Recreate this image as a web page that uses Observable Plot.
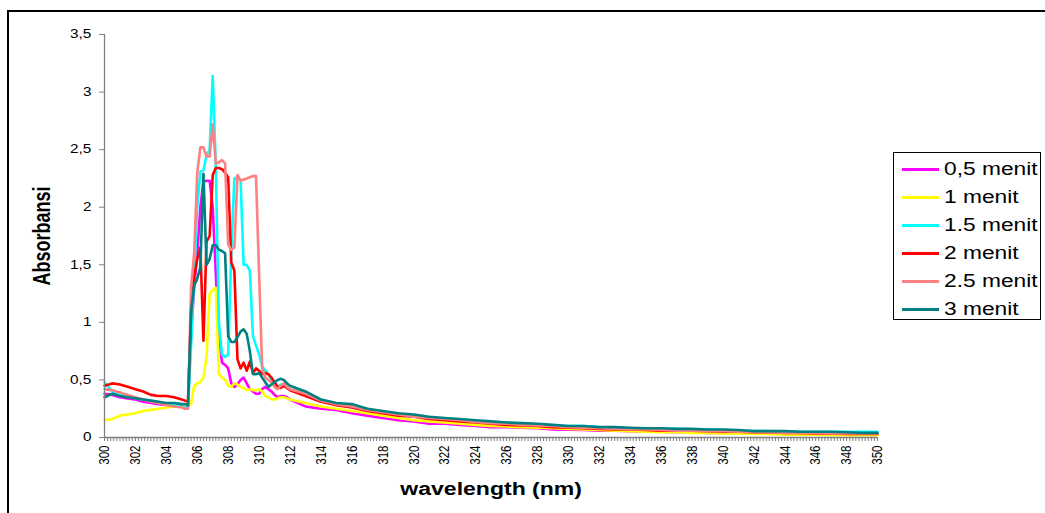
<!DOCTYPE html>
<html><head><meta charset="utf-8">
<script src="https://cdn.jsdelivr.net/npm/d3@7"></script>
<script src="https://cdn.jsdelivr.net/npm/@observablehq/plot@0.6"></script>
<style>
html,body{margin:0;padding:0;background:#fff;}
#wrap{position:relative;width:1045px;height:513px;overflow:hidden;font-family:"Liberation Sans",Arial,sans-serif;}
#chart{position:absolute;left:0;top:0;}
#frame{position:absolute;left:7px;top:10px;width:1100px;height:600px;border-left:2px solid #000;border-top:2px solid #000;}
#legend{position:absolute;left:893px;top:152px;width:148px;height:168px;border:1px solid #000;box-sizing:border-box;background:#fff;}
.sw{position:absolute;left:8px;width:37px;height:3px;}
.lt{position:absolute;left:50px;height:20px;line-height:20px;font-size:17.5px;white-space:nowrap;transform:scaleX(1.3);transform-origin:left center;color:#000;}
</style>
</head><body>
<div id="wrap"><div id="chart"></div><div id="frame"></div><div id="legend"></div></div>
<script>
// wavelength (nm)
const wavelength = [300,300.5,301,301.5,302,302.5,303,303.5,304,304.5,305,
 305.2,305.4,305.6,305.8,306,306.2,306.4,306.6,306.8,307,307.2,307.4,307.6,307.8,308,308.2,308.4,308.6,308.8,309,309.2,309.4,309.6,309.8,310,310.2,310.4,310.6,310.8,311,311.2,311.4,311.6,311.8,312,
 313,314,315,316,317,318,319,320,321,322,323,324,325,326,327,328,329,330,331,332,333,334,335,336,337,338,339,340,341,342,343,344,345,346,347,348,349,350];

const seriesNames = ["0,5 menit","1 menit","1.5 menit","2 menit","2.5 menit","3 menit"];
const seriesColors = ["#FF00FF","#FFFF00","#00FFFF","#FF0000","#FF8080","#008080"];

const m05 = [0.38,0.37,0.35,0.34,0.33,0.31,0.30,0.29,0.28,0.27,0.27,
 0.27,0.27,0.9,1.3,1.6,2.0,2.22,2.23,2.23,2.0,1.42,0.9,0.65,0.63,0.6,0.47,0.44,0.46,0.5,0.52,0.47,0.42,0.40,0.38,0.38,0.42,0.44,0.42,0.40,0.37,0.35,0.36,0.36,0.35,0.33,
 0.27,0.25,0.24,0.21,0.19,0.17,0.15,0.14,0.12,0.12,0.11,0.10,0.09,0.09,0.085,0.08,0.07,0.067,0.065,0.06,0.058,0.055,0.05,0.05,0.045,0.045,0.04,0.04,0.04,0.035,0.035,0.035,0.03,0.03,0.03,0.03,0.03,0.03];
const m1 = [0.15,0.16,0.19,0.20,0.21,0.23,0.24,0.25,0.26,0.27,0.28,
 0.28,0.28,0.29,0.45,0.47,0.48,0.52,0.7,1.25,1.28,1.3,0.55,0.52,0.5,0.45,0.44,0.47,0.46,0.44,0.43,0.41,0.42,0.41,0.41,0.42,0.40,0.36,0.35,0.33,0.33,0.34,0.35,0.35,0.34,0.33,
 0.30,0.27,0.25,0.23,0.21,0.19,0.17,0.15,0.14,0.13,0.12,0.11,0.10,0.095,0.09,0.085,0.08,0.075,0.07,0.065,0.06,0.055,0.05,0.045,0.045,0.04,0.04,0.035,0.035,0.03,0.03,0.025,0.025,0.025,0.02,0.02,0.02,0.02];
const m15 = [0.48,0.40,0.37,0.36,0.34,0.33,0.32,0.30,0.29,0.28,0.27,
 0.26,0.26,0.8,1.4,2.0,2.31,2.32,2.45,2.5,3.14,2.35,1.0,0.72,0.7,0.72,1.6,2.25,2.26,2.24,1.5,1.5,1.45,0.88,0.8,0.72,0.62,0.58,0.55,0.5,0.46,0.44,0.46,0.45,0.43,0.42,
 0.38,0.32,0.29,0.27,0.25,0.22,0.20,0.19,0.17,0.16,0.15,0.14,0.135,0.13,0.12,0.11,0.10,0.10,0.10,0.09,0.085,0.08,0.08,0.075,0.075,0.07,0.07,0.065,0.06,0.055,0.055,0.05,0.05,0.05,0.05,0.05,0.05,0.05];
const m2 = [0.45,0.47,0.46,0.44,0.42,0.40,0.37,0.36,0.36,0.35,0.33,
 0.32,0.31,1.1,1.4,1.55,1.65,0.84,1.7,1.75,2.28,2.34,2.34,2.33,2.3,2.26,1.52,1.45,0.68,0.6,0.65,0.58,0.66,0.56,0.6,0.58,0.55,0.56,0.55,0.52,0.48,0.44,0.43,0.45,0.43,0.41,
 0.36,0.31,0.28,0.26,0.23,0.21,0.19,0.18,0.16,0.15,0.14,0.13,0.12,0.11,0.105,0.10,0.09,0.085,0.08,0.075,0.07,0.07,0.065,0.06,0.06,0.06,0.055,0.05,0.05,0.045,0.045,0.04,0.04,0.035,0.035,0.03,0.03,0.03];
const m25 = [0.42,0.41,0.39,0.37,0.35,0.33,0.31,0.30,0.28,0.27,0.26,
 0.25,0.25,1.3,1.6,2.3,2.52,2.52,2.44,2.44,2.72,2.38,2.39,2.41,2.38,1.68,1.63,1.65,2.28,2.23,2.24,2.25,2.26,2.27,2.27,1.42,0.6,0.52,0.5,0.48,0.44,0.42,0.45,0.47,0.44,0.42,
 0.38,0.32,0.29,0.27,0.24,0.22,0.20,0.18,0.17,0.16,0.15,0.135,0.125,0.12,0.11,0.105,0.10,0.09,0.085,0.08,0.075,0.07,0.07,0.065,0.06,0.06,0.055,0.055,0.05,0.045,0.045,0.04,0.04,0.04,0.035,0.035,0.035,0.035];
const m3 = [0.35,0.38,0.36,0.35,0.34,0.33,0.32,0.31,0.30,0.30,0.29,
 0.29,0.28,1.1,1.32,1.38,1.48,2.29,1.5,1.55,1.67,1.67,1.63,1.62,1.6,0.88,0.83,0.83,0.87,0.92,0.94,0.9,0.75,0.55,0.55,0.56,0.52,0.48,0.44,0.46,0.48,0.5,0.51,0.5,0.47,0.45,
 0.40,0.33,0.30,0.29,0.25,0.23,0.21,0.20,0.18,0.17,0.16,0.15,0.14,0.13,0.125,0.12,0.11,0.10,0.10,0.09,0.09,0.085,0.08,0.08,0.075,0.075,0.07,0.07,0.065,0.055,0.055,0.055,0.05,0.05,0.05,0.045,0.04,0.04];

const yTicks = [0,0.5,1,1.5,2,2.5,3,3.5];
const xLabelTicks = [300,302,304,306,308,310,312,314,316,318,320,322,324,326,328,330,332,334,336,338,340,342,344,346,348,350];
const yTitle = "Absorbansi";
const xTitle = "wavelength (nm)";

const allSeries = [m05, m1, m15, m2, m25, m3];
const minorTicks = d3.range(0, 251).map(i => 300 + i * 0.2);

const lineMarks = allSeries.map((vals, k) =>
  Plot.line(wavelength.map((w, i) => ({w, a: vals[i]})), {x: "w", y: "a", stroke: seriesColors[k], strokeWidth: 2.6, strokeLinejoin: "round"})
);

const chart = Plot.plot({
  width: 1045, height: 513,
  marginLeft: 104, marginRight: 168, marginTop: 34, marginBottom: 76,
  style: {fontFamily: "Liberation Sans, Arial, sans-serif", color: "#000", background: "transparent", overflow: "visible"},
  x: {domain: [300, 350], axis: null},
  y: {domain: [0, 3.5], axis: null},
  marks: [
    ...lineMarks,
    Plot.ruleX([300], {stroke: "#808080", strokeWidth: 1.3}),
    Plot.ruleY([0], {stroke: "#808080", strokeWidth: 1.3}),
    Plot.axisY({ticks: yTicks, tickSize: 5, tickPadding: 8, fontSize: 12, stroke: "#808080", label: null,
      tickFormat: d => String(d).replace(".", ",")}),
    Plot.axisX({ticks: minorTicks, tickSize: 4, stroke: "#808080", label: null, tickFormat: () => ""}),
    Plot.axisX({ticks: xLabelTicks, tickSize: 0, tickPadding: 8, tickRotate: -90, fontSize: 12, label: null,
      tickFormat: d => String(d)}),
    Plot.text([yTitle], {frameAnchor: "left", text: d => d, rotate: -90, dx: -62, fontSize: 18, fontWeight: "bold", textAnchor: "middle", lineAnchor: "middle"}),
    Plot.text([xTitle], {frameAnchor: "bottom", text: d => d, dy: 52, fontSize: 18, fontWeight: "bold", textAnchor: "middle", lineAnchor: "middle"})
  ]
});
document.getElementById("chart").appendChild(chart);

// enforce tick label sizes
chart.querySelectorAll("text").forEach(t => {
  const tr = t.getAttribute("transform") || "";
  const s = t.textContent.trim();
  if (/rotate/.test(tr) && /^\d{3}$/.test(s)) t.style.fontSize = "11.5px";
  else if (/^\d(,5)?$/.test(s)) t.style.fontSize = "12px";
});

// the reference picture is stretched horizontally; mimic on text
function stretchTexts(svg, sx) {
  const ns = "http://www.w3.org/2000/svg";
  svg.querySelectorAll("text").forEach(t => {
    const tr = t.getAttribute("transform") || "";
    const rotated = /rotate/.test(tr);
    const anchor = getComputedStyle(t).textAnchor;
    const g = document.createElementNS(ns, "g");
    t.parentNode.insertBefore(g, t);
    g.appendChild(t);
    const b = g.getBBox();
    let cx = b.x + b.width / 2;
    if (!rotated && anchor === "end") cx = b.x + b.width;
    if (!rotated && anchor === "start") cx = b.x;
    g.setAttribute("transform", `translate(${cx},0) scale(${sx},1) translate(${-cx},0)`);
  });
}
stretchTexts(chart, 1.28);

// legend
const legend = document.getElementById("legend");
seriesNames.forEach((name, i) => {
  const cy = 16 + i * 28.05;
  const sw = document.createElement("div");
  sw.className = "sw"; sw.style.top = (cy - 1.5) + "px"; sw.style.background = seriesColors[i];
  const lt = document.createElement("div");
  lt.className = "lt"; lt.style.top = (cy - 10) + "px"; lt.textContent = name;
  legend.appendChild(sw); legend.appendChild(lt);
});
</script>
</body></html>
